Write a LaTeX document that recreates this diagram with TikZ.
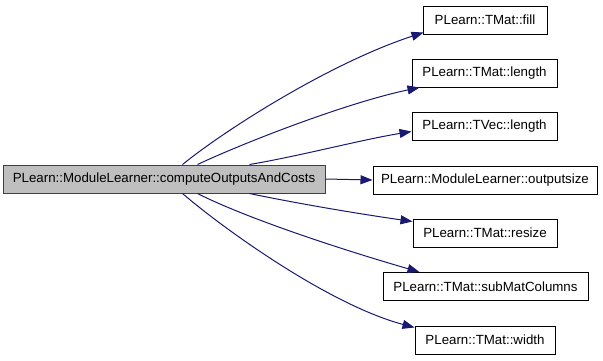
\documentclass[tikz,border=0pt]{standalone}
\usepackage{fontspec}
\setmainfont{Liberation Sans}
\usetikzlibrary{arrows.meta}
\definecolor{edgeblue}{HTML}{191970}
\definecolor{maingrey}{HTML}{BFBFBF}
\definecolor{mainborder}{HTML}{404040}
\begin{document}
\begin{tikzpicture}[x=1pt,y=-1pt,
  box/.style={draw=black,line width=1pt,rectangle,minimum height=28pt,inner sep=0pt,font=\fontsize{13.3}{16}\selectfont,fill=white},
  edge/.style={draw=edgeblue,line width=1pt,-{Triangle[length=12pt,width=9pt]}}]
\useasboundingbox (0,0) rectangle (603,360);
\node[box,fill=maingrey,draw=mainborder,minimum width=322pt] (main) at (164,179) {PLearn::ModuleLearner::computeOutputsAndCosts};
\node[box,minimum width=124pt] (fill) at (485,20) {PLearn::TMat::fill};
\node[box,minimum width=145pt] (tlen) at (484.5,73) {PLearn::TMat::length};
\node[box,minimum width=145pt] (tvec) at (484.5,126.5) {PLearn::TVec::length};
\node[box,minimum width=224pt] (osize) at (485,180) {PLearn::ModuleLearner::outputsize};
\node[box,minimum width=144pt] (resize) at (485,233) {PLearn::TMat::resize};
\node[box,minimum width=205pt] (sub) at (485.5,286.5) {PLearn::TMat::subMatColumns};
\node[box,minimum width=140pt] (width) at (485,340) {PLearn::TMat::width};
\draw[edge] ([xshift=180pt]main.north west) .. controls (225,130) and (330,63) .. ([xshift=1pt,yshift=2pt]fill.south west);
\draw[edge] ([xshift=195pt]main.north west) .. controls (250,140) and (350,102) .. ([xshift=8pt]tlen.south west);
\draw[edge] ([xshift=247pt]main.north west) .. controls (300,156) and (360,140) .. ([yshift=-5pt]tvec.west);
\draw[edge] (main.east) -- (osize.west);
\draw[edge] ([xshift=247pt]main.south west) .. controls (300,204) and (360,214) .. ([yshift=-3pt]resize.north west);
\draw[edge] ([xshift=195pt]main.south west) .. controls (250,220) and (350,252) .. ([xshift=37pt]sub.north west);
\draw[edge] ([xshift=180pt]main.south west) .. controls (225,230) and (330,305) .. ([yshift=-2pt]width.north west);
\end{tikzpicture}
\end{document}
